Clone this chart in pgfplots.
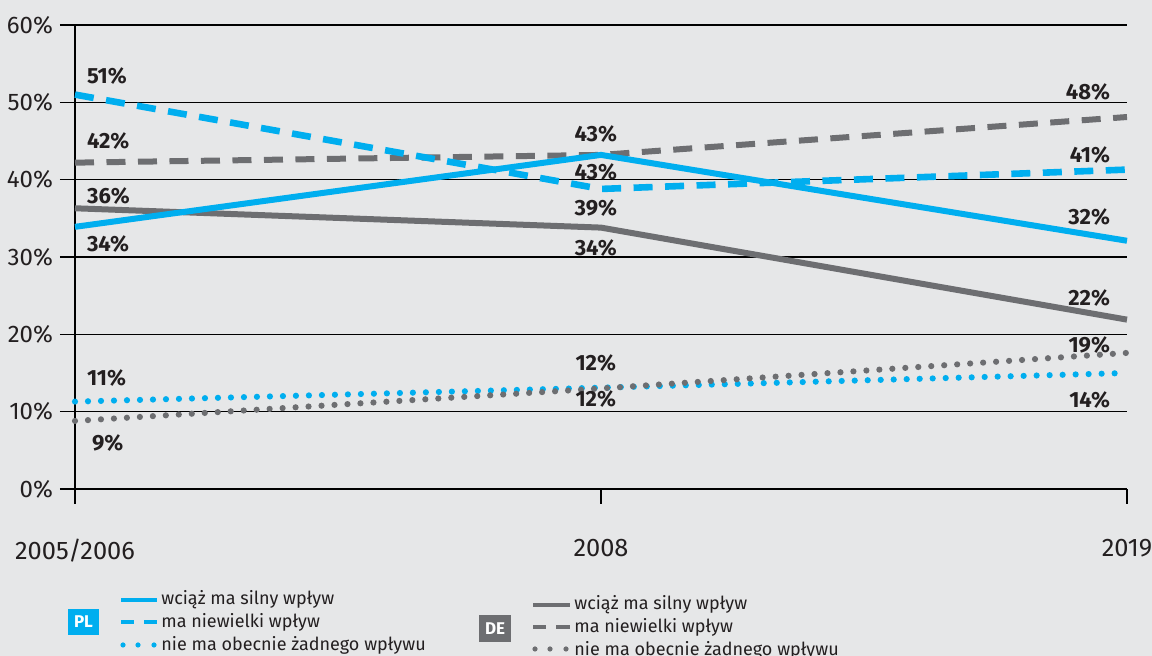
\documentclass[border=0pt]{standalone}
\usepackage{fontspec}
\setmainfont{Fira Sans}
\usepackage{pgfplots}
\pgfplotsset{compat=1.18}
\definecolor{bgc}{HTML}{E6E7E8}
\definecolor{cy}{HTML}{00AEEF}
\definecolor{gr}{HTML}{6D6E71}
\definecolor{txt}{HTML}{231F20}
\tikzset{lbl/.style={font=\bfseries\fontsize{11}{13}\selectfont, text=txt}}
\begin{document}
\begin{tikzpicture}
\begin{scope}[x=0.5pt,y=-0.5pt,shift={(-37.5pt,244.5pt)}]
\fill[bgc] (0,0) rectangle (1152,656);
\end{scope}
\begin{axis}[
  scale only axis, width=526pt, height=232pt,
  xmin=0, xmax=2, ymin=0, ymax=60,
  axis x line*=bottom, axis y line*=left,
  axis line style={black, line width=0.7pt, -},
  xtick={0,1,2}, xticklabels={2005/2006,2008,2019},
  ytick={0,10,...,60},
  yticklabel={\pgfmathprintnumber{\tick}\%},
  /pgf/number format/assume math mode=true,
  ymajorgrids, grid style={black, line width=0.7pt},
  tick align=outside, major tick length=7.5pt,
  tick style={black, line width=0.7pt},
  ticklabel style={font=\fontsize{12}{14}\selectfont, text=txt},
  xticklabel style={yshift=-14pt, font=\fontsize{12.7}{14}\selectfont},
  clip=false,
]
% DE
\addplot[gr, line width=3pt, line join=round] coordinates {(0,36.3) (1,33.8) (2,21.9)};
\addplot[gr, line width=3pt, dash pattern=on 9.5pt off 6.25pt] coordinates {(0,42.2) (1,43.2) (2,48.1)};
% PL
\addplot[cy, line width=3pt, line join=round] coordinates {(0,33.9) (1,43.2) (2,32.1)};
\addplot[cy, line width=3.3pt, dash pattern=on 9.5pt off 6.25pt] coordinates {(0,51) (1,38.8) (2,41.3)};
\addplot[cy, line width=3.1pt, line cap=round, dash pattern=on 0pt off 6.5pt] coordinates {(0,11.3) (1,13.1) (2,15.0)};
\addplot[gr, line width=3.1pt, line cap=round, dash pattern=on 0pt off 6.5pt] coordinates {(0,8.8) (1,13.0) (2,17.6)};
% labels left
\node[lbl, anchor=west] at (axis cs:0.0095,53.4) {51\%};
\node[lbl, anchor=west] at (axis cs:0.0095,45.0) {42\%};
\node[lbl, anchor=west] at (axis cs:0.0095,37.9) {36\%};
\node[lbl, anchor=west] at (axis cs:0.0095,31.7) {34\%};
\node[lbl, anchor=west] at (axis cs:0.0095,14.4) {11\%};
\node[lbl, anchor=west] at (axis cs:0.019,5.9) {9\%};
% labels 2008
\node[lbl] at (axis cs:0.99,45.9) {43\%};
\node[lbl] at (axis cs:0.99,41.0) {43\%};
\node[lbl] at (axis cs:0.99,36.3) {39\%};
\node[lbl] at (axis cs:0.99,31.2) {34\%};
\node[lbl] at (axis cs:0.99,16.3) {12\%};
\node[lbl] at (axis cs:0.99,11.6) {12\%};
% labels 2019
\node[lbl, anchor=east] at (axis cs:1.981,51.3) {48\%};
\node[lbl, anchor=east] at (axis cs:1.981,43.2) {41\%};
\node[lbl, anchor=east] at (axis cs:1.981,35.2) {32\%};
\node[lbl, anchor=east] at (axis cs:1.981,24.7) {22\%};
\node[lbl, anchor=east] at (axis cs:1.981,18.6) {19\%};
\node[lbl, anchor=east] at (axis cs:1.981,11.5) {14\%};
\end{axis}
\begin{scope}[x=0.5pt,y=-0.5pt,shift={(-37.5pt,244.5pt)}, lt/.style={anchor=west, inner sep=0pt, font=\fontsize{9}{10}\selectfont, text=txt}]
% PL legend
\fill[cy] (68,609) rectangle (99,635);
\node[white, font=\bfseries\fontsize{8.5}{10}\selectfont] at (83.5,622) {PL};
\draw[cy, line width=2.2pt] (121,600)--(157,600);
\draw[cy, line width=2.2pt] (121,622)--(134,622) (144,622)--(157,622);
\fill[cy] (123,645) circle (2.6) (138,645) circle (2.6) (154,645) circle (2.6);
\node[lt] at (161,600) {wciąż ma silny wpływ};
\node[lt] at (161,622) {ma niewielki wpływ};
\node[lt] at (161,645) {nie ma obecnie żadnego wpływu};
% DE legend
\fill[gr] (479,615) rectangle (511,642);
\node[white, font=\bfseries\fontsize{8.5}{10}\selectfont] at (495,628.5) {DE};
\draw[gr, line width=2.2pt] (533,605)--(570,605);
\draw[gr, line width=2.2pt] (533,627)--(546,627) (556,627)--(570,627);
\fill[gr] (535,649) circle (2.6) (550,649) circle (2.6) (566,649) circle (2.6);
\node[lt] at (574,605) {wciąż ma silny wpływ};
\node[lt] at (574,627) {ma niewielki wpływ};
\node[lt] at (574,650) {nie ma obecnie żadnego wpływu};
\pgfresetboundingbox
\path[use as bounding box] (0,0) rectangle (1152,656);
\end{scope}
\end{tikzpicture}
\end{document}
